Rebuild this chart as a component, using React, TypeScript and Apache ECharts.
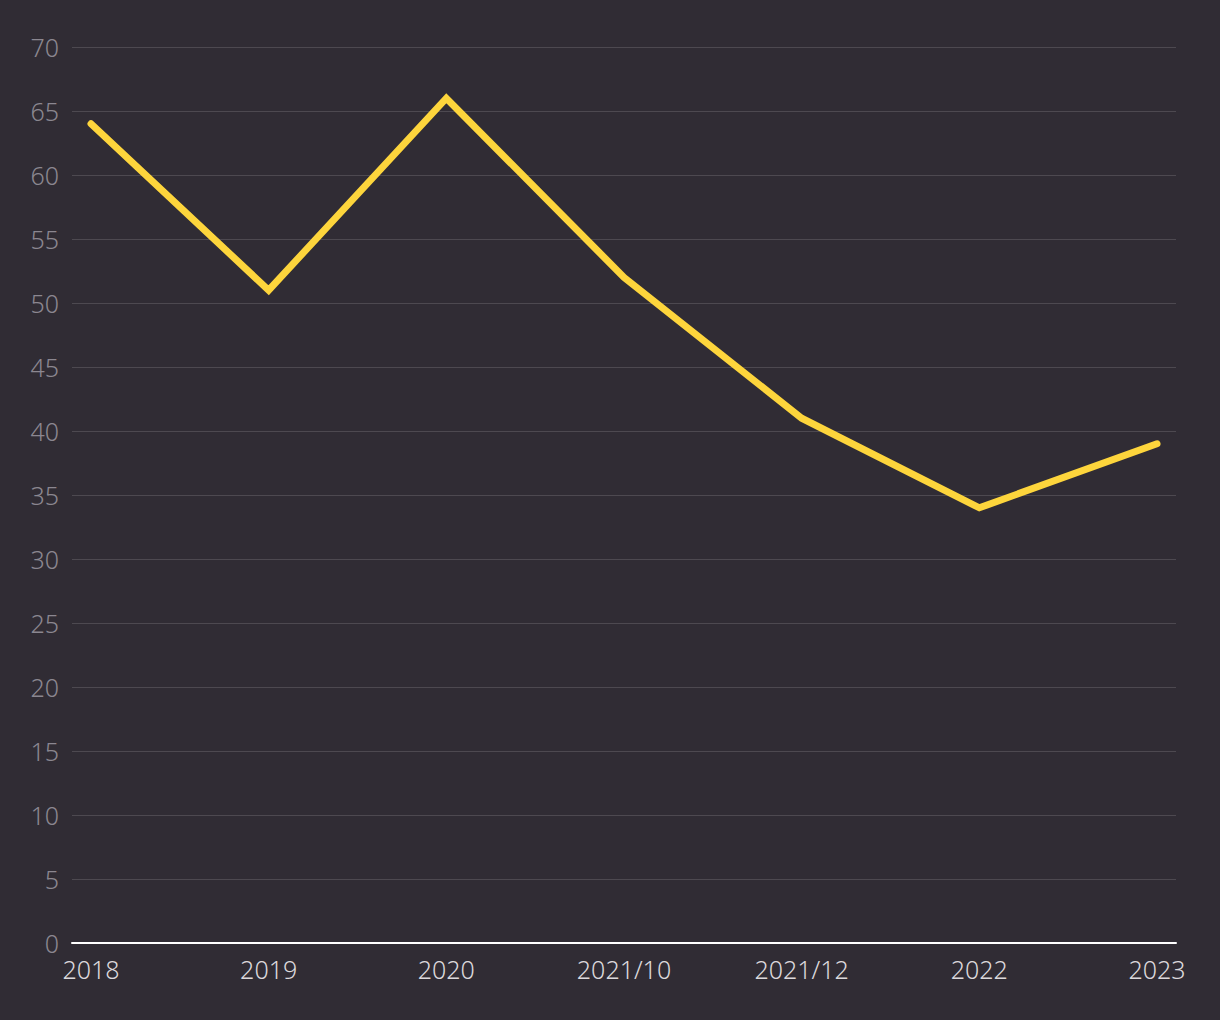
import React, { useEffect, useRef } from "react";
import * as echarts from "echarts";

const categories = ["2018", "2019", "2020", "2021/10", "2021/12", "2022", "2023"];
const values = [64, 51, 66, 52, 41, 34, 39];
const yMin = 0;
const yMax = 70;
const yStep = 5;

export default function App() {
  const ref = useRef<HTMLDivElement>(null);
  useEffect(() => {
    document.body.style.margin = "0";
    if (!ref.current) return;
    const chart = echarts.init(ref.current, null, { renderer: "svg" });
    const font = "'Noto Sans', 'Open Sans', sans-serif";
    chart.setOption({
      animation: false,
      backgroundColor: "#302c34",
      textStyle: { fontFamily: font },
      grid: [
        { left: 72, right: 44, top: 47, bottom: 77, containLabel: false },
        { left: 91, right: 63, top: 47, bottom: 77, containLabel: false },
      ],
      xAxis: [
        {
          gridIndex: 0,
          type: "value",
          min: 0,
          max: 1,
          axisLine: { show: true, onZero: false, lineStyle: { color: "#ffffff", width: 2 } },
          axisTick: { show: false },
          axisLabel: { show: false },
          splitLine: { show: false },
        },
        {
          gridIndex: 1,
          type: "category",
          data: categories,
          boundaryGap: false,
          axisLine: { show: false },
          axisTick: { show: false },
          splitLine: { show: false },
          axisLabel: {
            color: "#dcd9dc",
            fontSize: 25,
            fontWeight: 300,
            fontFamily: font,
            margin: 13,
            interval: 0,
          },
        },
      ],
      yAxis: [
        {
          gridIndex: 0,
          type: "value",
          min: yMin,
          max: yMax,
          interval: yStep,
          axisLine: { show: false },
          axisTick: { show: false },
          axisLabel: { color: "#8b8790", fontSize: 25, fontWeight: 300, fontFamily: font, margin: 13 },
          splitLine: { show: true, lineStyle: { color: "#4d4950", width: 1 } },
        },
        {
          gridIndex: 1,
          type: "value",
          min: yMin,
          max: yMax,
          show: false,
          splitLine: { show: false },
        },
      ],
      series: [
        {
          type: "line",
          xAxisIndex: 1,
          yAxisIndex: 1,
          data: values,
          showSymbol: false,
          symbol: "none",
          lineStyle: { color: "#fdd53c", width: 7, cap: "round", join: "miter" },
          z: 5,
        },
      ],
    });
    return () => chart.dispose();
  }, []);
  return <div ref={ref} style={{ width: 1220, height: 1020 }} />;
}
